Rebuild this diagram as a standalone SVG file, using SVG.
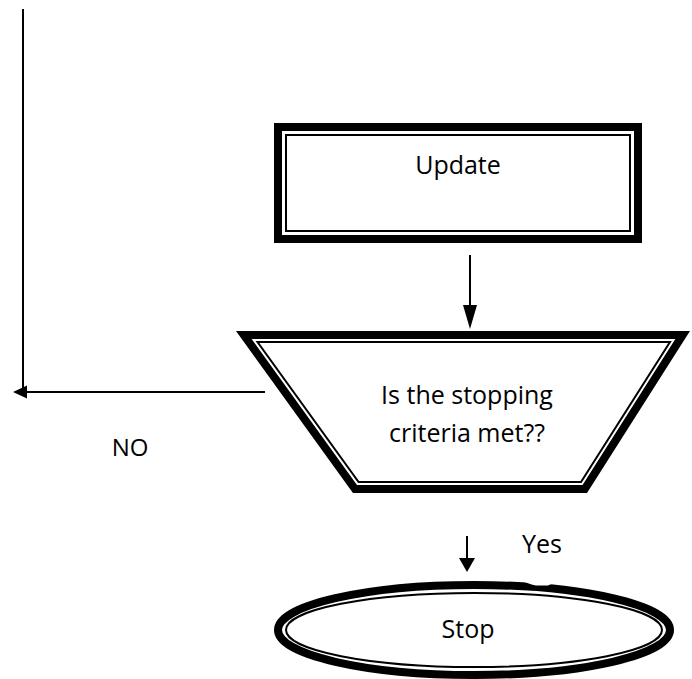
<svg xmlns="http://www.w3.org/2000/svg" width="692" height="679" viewBox="0 0 692 679">
  <style>
    .thick { fill: #fff; stroke: #000; stroke-width: 8; stroke-linejoin: miter; }
    .thin { fill: none; stroke: #000; stroke-width: 2; stroke-linejoin: miter; }
    .line { fill: none; stroke: #000; stroke-width: 2; }
    .head { fill: #000; stroke: none; }
    .label { font-family: "Open Sans", "Noto Sans", sans-serif; font-size: 25px; fill: #000; text-anchor: middle; }
  </style>
  <rect width="692" height="679" fill="#fff"/>

  <!-- connectors -->
  <g id="connectors">
    <!-- Update -> decision -->
    <line class="line" x1="470" y1="255" x2="470" y2="307"/>
    <polygon class="head" points="463,305 477,305 470,329"/>
    <!-- decision NO branch, back up the left side -->
    <line class="line" x1="265" y1="392" x2="26" y2="392"/>
    <polygon class="head" points="13,392 27,385.5 27,398.5"/>
    <line class="line" x1="23" y1="9" x2="23" y2="393"/>
    <!-- decision -> Stop -->
    <line class="line" x1="467" y1="536" x2="467" y2="560"/>
    <polygon class="head" points="459,558 475,558 467,572"/>
  </g>

  <!-- process: Update -->
  <g id="update">
    <rect class="thick" x="278" y="127" width="360" height="112"/>
    <rect class="thin" x="286" y="135" width="344" height="96"/>
    <text class="label" x="458" y="174">Update</text>
  </g>

  <!-- decision: stopping criteria -->
  <g id="decision">
    <polygon class="thick" points="243.8,335 682.7,335 584.8,489 355,489"/>
    <polygon class="thin" points="257.5,342 670,342 581,482 358.6,482"/>
    <text class="label" x="467" y="404">Is the stopping</text>
    <text class="label" x="467" y="442">criteria met??</text>
  </g>

  <!-- terminator: Stop -->
  <g id="stop">
    <ellipse class="thick" cx="474" cy="630" rx="196" ry="45"/>
    <ellipse class="thin" cx="474" cy="630" rx="188" ry="37"/>
    <!-- small dent in the top rim -->
    <path d="M514,579 C522,579 526,584 536,585.5 L548,585.5 C552,583.5 556,583 560,584 L560,579 Z" fill="#fff"/>
    <text class="label" x="468" y="638">Stop</text>
  </g>

  <!-- branch labels -->
  <g id="labels">
    <text class="label" x="130" y="456" style="font-size:24px">NO</text>
    <text class="label" x="542" y="553">Yes</text>
  </g>
</svg>
